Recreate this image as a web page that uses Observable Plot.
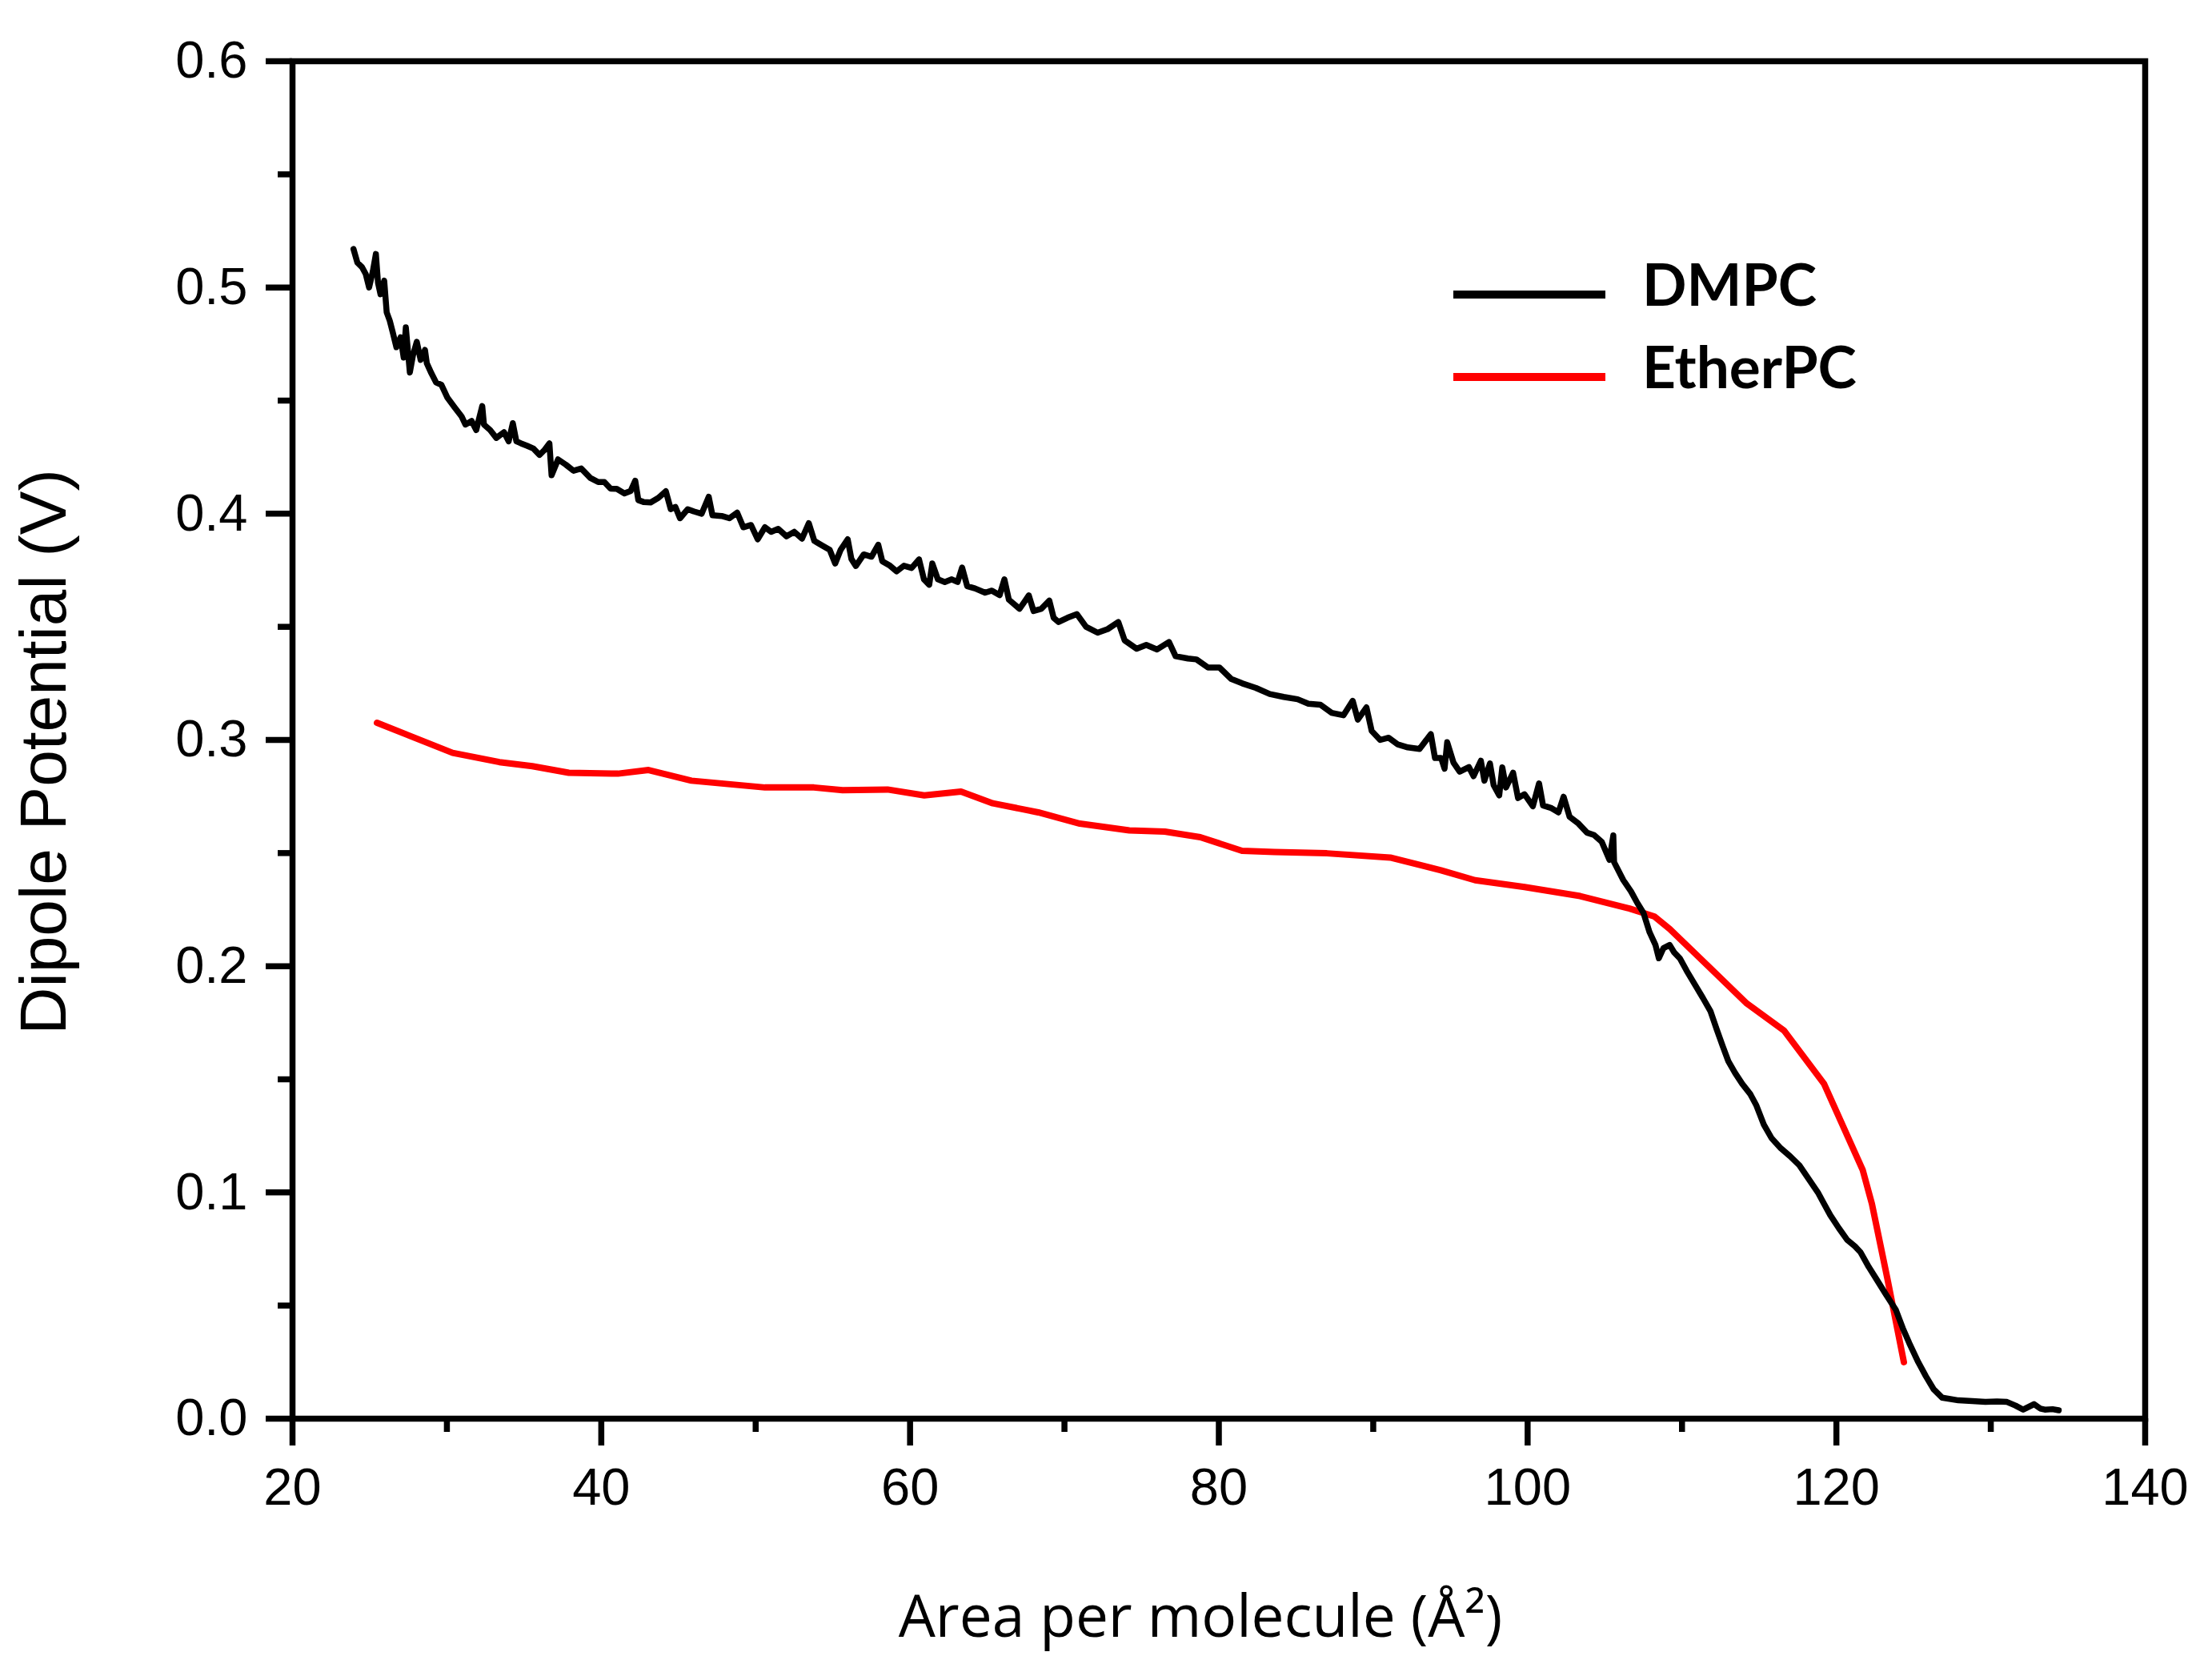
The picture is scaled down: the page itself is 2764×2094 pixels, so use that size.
<!DOCTYPE html>
<html>
<head>
<meta charset="utf-8">
<script src="https://cdn.jsdelivr.net/npm/d3@7"></script>
<script src="https://cdn.jsdelivr.net/npm/@observablehq/plot@0.6"></script>
<style>
  html, body { margin: 0; padding: 0; background: white; }
  #wrap { position: relative; width: 2764px; height: 2094px; }
  #wrap svg { display: block; }
  #legend { position: absolute; left: 0; top: 0; }
</style>
</head>
<body>
<div id="wrap"></div>
<script>
// ---- data ----
const seriesNames = ["DMPC", "EtherPC"];
const seriesColors = ["#000000", "#ff0000"];

const dmpcArea = [23.95,24.2,24.5,24.74,24.96,25.2,25.4,25.54,25.7,25.94,26.1,26.3,26.5,26.73,27.0,27.2,27.34,27.6,27.8,28.05,28.3,28.58,28.7,29.0,29.3,29.64,30.04,30.5,30.96,31.2,31.6,31.9,32.29,32.4,32.8,33.2,33.7,34.0,34.27,34.5,34.8,35.2,35.6,36.0,36.3,36.64,36.78,37.2,37.7,38.2,38.7,39.29,39.8,40.2,40.6,41.0,41.5,41.9,42.2,42.4,42.73,43.2,43.7,44.18,44.5,44.8,45.1,45.6,46.0,46.5,46.96,47.2,47.8,48.3,48.8,49.2,49.7,50.13,50.6,51.0,51.46,52.0,52.5,53.0,53.44,53.8,54.3,54.8,55.15,55.5,55.96,56.2,56.49,57.0,57.5,57.94,58.2,58.7,59.13,59.6,60.1,60.58,60.9,61.24,61.44,61.8,62.25,62.7,63.08,63.37,63.7,64.2,64.86,65.3,65.8,66.11,66.4,67.09,67.4,67.69,68.0,68.5,69.02,69.3,69.62,70.2,70.81,71.4,72.15,72.8,73.49,73.9,74.68,75.3,76.0,76.77,77.2,78.0,78.55,79.3,80.04,80.8,81.52,82.4,83.3,84.2,85.1,85.8,86.58,87.3,88.07,88.67,89.0,89.56,89.9,90.45,91.0,91.6,92.24,93.0,93.73,94.0,94.4,94.62,94.79,95.2,95.6,96.2,96.5,96.97,97.2,97.56,97.8,98.16,98.36,98.6,99.06,99.38,99.8,100.34,100.74,101.0,101.5,102.0,102.33,102.72,103.3,103.85,104.3,104.8,105.3,105.55,105.6,106.2,106.7,107.1,107.5,107.9,108.28,108.5,108.8,109.2,109.5,109.86,110.3,110.85,111.35,111.85,112.25,112.64,113.0,113.44,113.9,114.43,114.8,115.3,115.8,116.4,117.0,117.6,118.2,118.8,119.1,119.6,120.16,120.7,121.2,121.56,122.1,122.6,123.2,123.85,124.3,124.72,125.3,125.8,126.3,126.85,127.9,128.8,129.65,130.4,131.05,131.6,132.1,132.8,133.2,133.5,134.0,134.4];
const dmpcV = [0.517,0.511,0.509,0.506,0.500,0.507,0.5148,0.502,0.497,0.503,0.489,0.4853,0.480,0.4736,0.478,0.469,0.4824,0.4624,0.470,0.476,0.468,0.4724,0.4665,0.462,0.458,0.457,0.4512,0.447,0.4429,0.4394,0.441,0.437,0.4476,0.4394,0.437,0.4335,0.436,0.432,0.440,0.432,0.4311,0.430,0.4288,0.426,0.428,0.4311,0.417,0.424,0.4217,0.419,0.420,0.4158,0.414,0.414,0.4111,0.411,0.409,0.410,0.4146,0.406,0.4052,0.405,0.407,0.4099,0.402,0.403,0.398,0.402,0.401,0.400,0.4075,0.3993,0.399,0.398,0.4005,0.394,0.395,0.3887,0.394,0.392,0.3933,0.390,0.392,0.389,0.3958,0.388,0.386,0.384,0.378,0.384,0.3887,0.380,0.3769,0.382,0.381,0.3863,0.379,0.377,0.3745,0.377,0.376,0.3798,0.371,0.3686,0.378,0.371,0.3698,0.371,0.3698,0.3762,0.368,0.367,0.3651,0.366,0.364,0.371,0.362,0.358,0.361,0.3639,0.357,0.358,0.3616,0.354,0.3521,0.354,0.3556,0.350,0.3474,0.349,0.3521,0.344,0.3403,0.342,0.340,0.3433,0.337,0.336,0.3356,0.332,0.332,0.327,0.325,0.323,0.3203,0.319,0.318,0.316,0.3156,0.312,0.3109,0.3173,0.309,0.3144,0.304,0.300,0.301,0.298,0.2967,0.296,0.3026,0.292,0.292,0.2873,0.299,0.290,0.286,0.288,0.284,0.2908,0.282,0.2896,0.280,0.2755,0.2879,0.279,0.2855,0.2743,0.276,0.2707,0.2808,0.271,0.270,0.268,0.2749,0.266,0.263,0.259,0.258,0.255,0.247,0.2578,0.246,0.238,0.233,0.228,0.2236,0.215,0.2094,0.2035,0.208,0.2094,0.206,0.2035,0.198,0.1917,0.186,0.180,0.172,0.1646,0.158,0.1528,0.148,0.1434,0.1387,0.130,0.124,0.1195,0.116,0.112,0.106,0.100,0.0962,0.090,0.0842,0.079,0.0762,0.0736,0.067,0.0616,0.055,0.0481,0.040,0.0334,0.025,0.0187,0.013,0.0093,0.0081,0.0078,0.0074,0.0076,0.0074,0.0058,0.004,0.0064,0.0045,0.004,0.0042,0.0037];

const etherArea = [25.47,30.37,33.4,35.53,37.9,41.08,43.06,45.84,50.6,53.77,55.63,58.54,60.92,63.3,65.36,68.3,71.0,74.2,76.5,78.8,81.5,83.6,87.0,91.1,94.39,96.6,99.8,103.4,106.6,108.2,109.2,111.7,114.2,116.6,119.2,121.7,122.3,123.3,124.37];
const etherV = [0.3076,0.2943,0.2902,0.2884,0.2855,0.2851,0.2867,0.282,0.279,0.279,0.2778,0.2781,0.2755,0.2772,0.272,0.268,0.263,0.260,0.2595,0.257,0.251,0.2505,0.2499,0.248,0.2424,0.238,0.235,0.231,0.2255,0.222,0.2165,0.200,0.1835,0.1716,0.148,0.110,0.095,0.062,0.025];

const xMajorTicks = [20, 40, 60, 80, 100, 120, 140];
const xMinorTicks = [30, 50, 70, 90, 110, 130];
const yMajorTicks = [0, 0.1, 0.2, 0.3, 0.4, 0.5, 0.6];
const yMinorTicks = [0.05, 0.15, 0.25, 0.35, 0.45, 0.55];
const xLabel = "Area per molecule (Å²)";
const yLabel = "Dipole Potential (V)";

// ---- build tables ----
const dmpc = dmpcArea.map((a, i) => ({area: a, v: dmpcV[i]}));
const ether = etherArea.map((a, i) => ({area: a, v: etherV[i]}));

const W = 2764, H = 2094;
const tickFont = "'Liberation Sans', Arial, sans-serif";

const chart = Plot.plot({
  width: W,
  height: H,
  marginLeft: 365,
  marginRight: 84,
  marginTop: 76,
  marginBottom: 322,
  x: {domain: [20, 140]},
  y: {domain: [0, 0.6]},
  style: {fontFamily: tickFont, fontSize: "65px", background: "white", color: "black", overflow: "visible"},
  marks: [
    Plot.line(ether, {x: "area", y: "v", stroke: seriesColors[1], strokeWidth: 8}),
    Plot.line(dmpc, {x: "area", y: "v", stroke: seriesColors[0], strokeWidth: 7.5}),
    Plot.axisX({ticks: xMajorTicks, tickSize: 34, tickPadding: 27, strokeWidth: 7.5, label: null,
                tickFormat: d => String(d), fontSize: 65, fontFamily: tickFont}),
    Plot.axisX({ticks: xMinorTicks, tickSize: 17, strokeWidth: 7.5, label: null, tickFormat: () => ""}),
    Plot.axisY({ticks: yMajorTicks, tickSize: 33, tickPadding: 23, strokeWidth: 7.5, label: null,
                tickFormat: d3.format(".1f"), fontSize: 65, fontFamily: tickFont}),
    Plot.axisY({ticks: yMinorTicks, tickSize: 18, strokeWidth: 7.5, label: null, tickFormat: () => ""}),
    Plot.frame({stroke: "black", strokeWidth: 7.5}),
    Plot.text([yLabel], {frameAnchor: "left", text: d => d, rotate: -90, dx: -310, dy: 15,
                         textAnchor: "middle", lineAnchor: "middle",
                         fontSize: 82, fontFamily: tickFont, fill: "black"}),
    Plot.text([xLabel], {frameAnchor: "bottom", text: d => d, dx: -23, dy: 272,
                         fontSize: 73, fontFamily: "'Open Sans', sans-serif", fill: "black"})
  ]
});

const wrap = document.getElementById("wrap");
wrap.appendChild(chart);

// ---- legend overlay ----
const legend = d3.select(wrap).append("svg")
  .attr("id", "legend")
  .attr("width", W).attr("height", H);
const rowY = [368, 471];
const rows = legend.selectAll("g").data(seriesNames).join("g")
  .attr("transform", (d, i) => `translate(0,${rowY[i]})`);
rows.append("line")
  .attr("x1", 1816).attr("x2", 2006).attr("y1", 0).attr("y2", 0)
  .attr("stroke", (d, i) => seriesColors[i]).attr("stroke-width", 10);
rows.append("text")
  .attr("x", 2052).attr("y", 14)
  .attr("font-family", "Lato, 'Open Sans', sans-serif")
  .attr("font-weight", "bold")
  .attr("font-size", 73)
  .attr("fill", "black")
  .text(d => d);
</script>
</body>
</html>
